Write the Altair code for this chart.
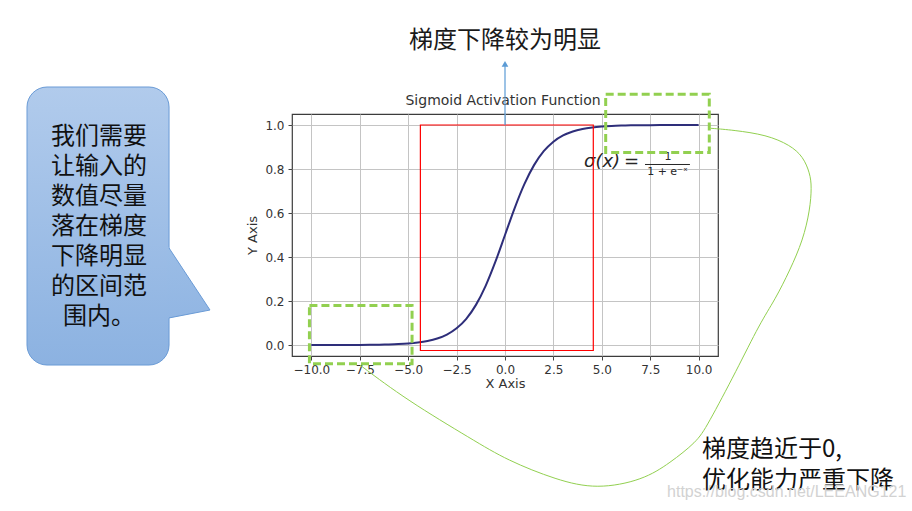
import altair as alt
import pandas as pd

# ---- sigmoid curve values ----
sig_x = [-10.0, -9.5, -9.0, -8.5, -8.0, -7.5, -7.0, -6.5, -6.0, -5.5, -5.0,
         -4.5, -4.0, -3.5, -3.0, -2.5, -2.0, -1.5, -1.0, -0.5, 0.0,
         0.5, 1.0, 1.5, 2.0, 2.5, 3.0, 3.5, 4.0, 4.5, 5.0,
         5.5, 6.0, 6.5, 7.0, 7.5, 8.0, 8.5, 9.0, 9.5, 10.0]
sig_y = [0.00005, 0.00007, 0.00012, 0.0002, 0.00034, 0.00055, 0.0009, 0.0015, 0.0025, 0.0041, 0.0067,
         0.011, 0.018, 0.0293, 0.0474, 0.0759, 0.1192, 0.1824, 0.2689, 0.3775, 0.5,
         0.6225, 0.7311, 0.8176, 0.8808, 0.9241, 0.9526, 0.9707, 0.982, 0.989, 0.9933,
         0.9959, 0.9975, 0.9985, 0.9991, 0.9994, 0.9997, 0.9998, 0.9999, 0.9999, 1.0]

x_ticks = [-10, -7.5, -5, -2.5, 0, 2.5, 5, 7.5, 10]
y_ticks = [0.0, 0.2, 0.4, 0.6, 0.8, 1.0]

chart_title = "Sigmoid Activation Function"
x_title = "X Axis"
y_title = "Y Axis"
heading = "梯度下降较为明显"
callout_lines = ["我们需要", "让输入的", "数值尽量", "落在梯度", "下降明显", "的区间范", "围内。"]
note_lines = ["梯度趋近于0,", "优化能力严重下降"]
watermark = "https://blog.csdn.net/LEEANG121"
formula_lhs = "σ(x)"
formula_eq = "="
formula_num = "1"
formula_den = "1 + e⁻ˣ"

# ---- annotation geometry, in data units ----
title_pos = {"x": [-0.1], "y": [1.091]}
red_box = {"x": [-4.37], "x2": [4.56], "y": [1.0], "y2": [-0.025]}
green_boxes = {"x": [-10.1, 5.2], "x2": [-4.8, 10.55], "y": [-0.085, 0.875], "y2": [0.18, 1.14]}
link_x = [10.64, 11.79, 13.51, 14.72, 15.40, 15.75, 15.84, 15.75, 15.39, 14.72, 13.94, 13.17,
          11.97, 10.42, 9.90, 8.52, 7.13, 4.74, 2.67, 0.09, -1.64, -5.08, -7.49]
link_y = [0.985, 0.977, 0.955, 0.909, 0.856, 0.780, 0.720, 0.614, 0.477, 0.341, 0.205, 0.100,
          -0.114, -0.371, -0.440, -0.536, -0.614, -0.656, -0.614, -0.523, -0.432, -0.25, -0.091]
callout_box = {"x": [-24.685], "x2": [-17.35], "y": [1.1727], "y2": [-0.091]}
pointer_area = {"x": [-17.455, -15.235], "y": [0.4545, 0.159], "y2": [0.121, 0.159]}
pointer_edge = {"x": [-17.352, -15.235, -17.352], "y": [0.441, 0.159, 0.123]}

W, H = 426, 242
xs = alt.Scale(domain=[-11, 11], nice=False, zero=False)
ys = alt.Scale(domain=[-0.05, 1.05], nice=False, zero=False)

CJK = "Noto Sans CJK SC"
MPL = "DejaVu Sans"

AX_X = alt.Axis(values=x_ticks, title=x_title, grid=True,
                labelExpr="replace(format(datum.value, '.1f'), '-', '\u2212')")
AX_Y = alt.Axis(values=y_ticks, title=y_title, grid=True, format=".1f")


def X(f="x"):
    return alt.X(f"{f}:Q", scale=xs, axis=AX_X)


def Y(f="y"):
    return alt.Y(f"{f}:Q", scale=ys, axis=AX_Y)


# main sigmoid line
sig = alt.Chart(pd.DataFrame({"x": sig_x, "y": sig_y})).mark_line(
    color="#2e2e7a", strokeWidth=2, interpolate="monotone"
).encode(x=X(), y=Y())

title_mark = alt.Chart(pd.DataFrame({**title_pos, "t": [chart_title]})).mark_text(
    align="center", baseline="alphabetic", font=MPL, fontSize=14, color="#333333"
).encode(x=X(), y=Y(), text="t:N")

# formula
formula = alt.layer(
    alt.Chart(pd.DataFrame({"x": [4.08], "y": [0.811], "t": [formula_lhs]})).mark_text(
        align="left", baseline="alphabetic", font=MPL, fontSize=18, fontStyle="italic", color="#262626"
    ).encode(x=X(), y=Y(), text="t:N"),
    alt.Chart(pd.DataFrame({"x": [6.53], "y": [0.811], "t": [formula_eq]})).mark_text(
        align="center", baseline="alphabetic", font=MPL, fontSize=18, color="#262626"
    ).encode(x=X(), y=Y(), text="t:N"),
    alt.Chart(pd.DataFrame({"x": [8.42], "y": [0.839], "t": [formula_num]})).mark_text(
        align="center", baseline="alphabetic", font=MPL, fontSize=11, color="#262626"
    ).encode(x=X(), y=Y(), text="t:N"),
    alt.Chart(pd.DataFrame({"x": [7.23], "x2": [9.55], "y": [0.8205]})).mark_rule(
        color="#262626", strokeWidth=1
    ).encode(x=X(), x2="x2:Q", y=Y()),
    alt.Chart(pd.DataFrame({"x": [8.39], "y": [0.773], "t": [formula_den]})).mark_text(
        align="center", baseline="alphabetic", font=MPL, fontSize=11, color="#262626"
    ).encode(x=X(), y=Y(), text="t:N"),
)

red = alt.Chart(pd.DataFrame(red_box)).mark_rect(
    fillOpacity=0, stroke="#ff0000", strokeWidth=1.2
).encode(x=X(), x2="x2:Q", y=Y(), y2="y2:Q")

green = alt.Chart(pd.DataFrame(green_boxes)).mark_rect(
    fillOpacity=0, stroke="#92d050", strokeWidth=3, strokeDash=[8, 4]
).encode(x=X(), x2="x2:Q", y=Y(), y2="y2:Q")

link = alt.Chart(pd.DataFrame({"x": link_x, "y": link_y, "i": list(range(len(link_x)))})).mark_line(
    color="#92d050", strokeWidth=1, interpolate="basis"
).encode(x=X(), y=Y(), order="i:Q")

arrow = alt.layer(
    alt.Chart(pd.DataFrame({"x": [0.0], "y": [1.0], "y2": [1.268]})).mark_rule(
        color="#5b9bd5", strokeWidth=1.2
    ).encode(x=X(), y=Y(), y2="y2:Q"),
    alt.Chart(pd.DataFrame({"x": [0.0], "y": [1.278]})).mark_point(
        shape="triangle-up", filled=True, size=45, color="#5b9bd5", opacity=1
    ).encode(x=X(), y=Y()),
)

head = alt.Chart(pd.DataFrame({"x": [0.0], "y": [1.436], "t": [heading]})).mark_text(
    align="center", baseline="top", font=CJK, fontSize=24, color="#1a1a1a"
).encode(x=X(), y=Y(), text="t:N")

fill_grad = alt.Gradient(
    gradient="linear", x1=0, x2=0, y1=0, y2=1,
    stops=[alt.GradientStop(color="#b1cbec", offset=0), alt.GradientStop(color="#8cb2e1", offset=1)],
)
ptr_grad = alt.Gradient(
    gradient="linear", x1=0, x2=0, y1=0, y2=1,
    stops=[alt.GradientStop(color="#9bbde6", offset=0), alt.GradientStop(color="#92b6e3", offset=1)],
)

callout = alt.layer(
    alt.Chart(pd.DataFrame(callout_box)).mark_rect(
        cornerRadius=20, fill=fill_grad, stroke="#6a9bd6", strokeWidth=1
    ).encode(x=X(), x2="x2:Q", y=Y(), y2="y2:Q"),
    alt.Chart(pd.DataFrame(pointer_area)).mark_area(fill=ptr_grad, strokeWidth=0).encode(
        x=X(), y=Y(), y2="y2:Q"),
    alt.Chart(pd.DataFrame({**pointer_edge, "i": [0, 1, 2]})).mark_line(
        color="#6a9bd6", strokeWidth=1
    ).encode(x=X(), y=Y(), order="i:Q"),
    alt.Chart(pd.DataFrame({"x": [-20.97], "y": [1.0], "t": ["\n".join(callout_lines)]})).mark_text(
        align="center", baseline="top", font=CJK, fontSize=24, lineHeight=30, lineBreak="\n", color="#111111"
    ).encode(x=X(), y=Y(), text="t:N"),
)

note = alt.Chart(pd.DataFrame({"x": [10.17], "y": [-0.423], "t": ["\n".join(note_lines)]})).mark_text(
    align="left", baseline="top", font=CJK, fontSize=24, lineHeight=31, lineBreak="\n", color="#111111"
).encode(x=X(), y=Y(), text="t:N")

mark_wm = alt.Chart(pd.DataFrame({"x": [8.37], "y": [-0.691], "t": [watermark]})).mark_text(
    align="left", baseline="alphabetic", font="Liberation Sans", fontSize=16, color="#d2d2d2"
).encode(x=X(), y=Y(), text="t:N")

chart = alt.layer(
    sig, title_mark, formula, red, green, link, arrow, head, callout, note, mark_wm
).properties(
    width=W, height=H,
    autosize=alt.AutoSizeParams(type="none"),
    padding={"left": 292, "top": 114, "right": 194, "bottom": 155},
    background="white",
).configure_view(
    stroke="#3c3c3c", strokeWidth=1.2
).configure_axis(
    domain=False, labelFont=MPL, labelFontSize=12, labelColor="#333333",
    titleFont=MPL, titleFontSize=13, titleFontWeight="normal", titleColor="#333333",
    tickColor="#444444", tickSize=4, tickWidth=1, labelPadding=4,
    gridColor="#c4c4c4", gridWidth=1, gridOpacity=1,
).configure_axisX(titlePadding=2).configure_axisY(titlePadding=5)

chart.save("out.html", embed_options={"renderer": "svg", "actions": False})
